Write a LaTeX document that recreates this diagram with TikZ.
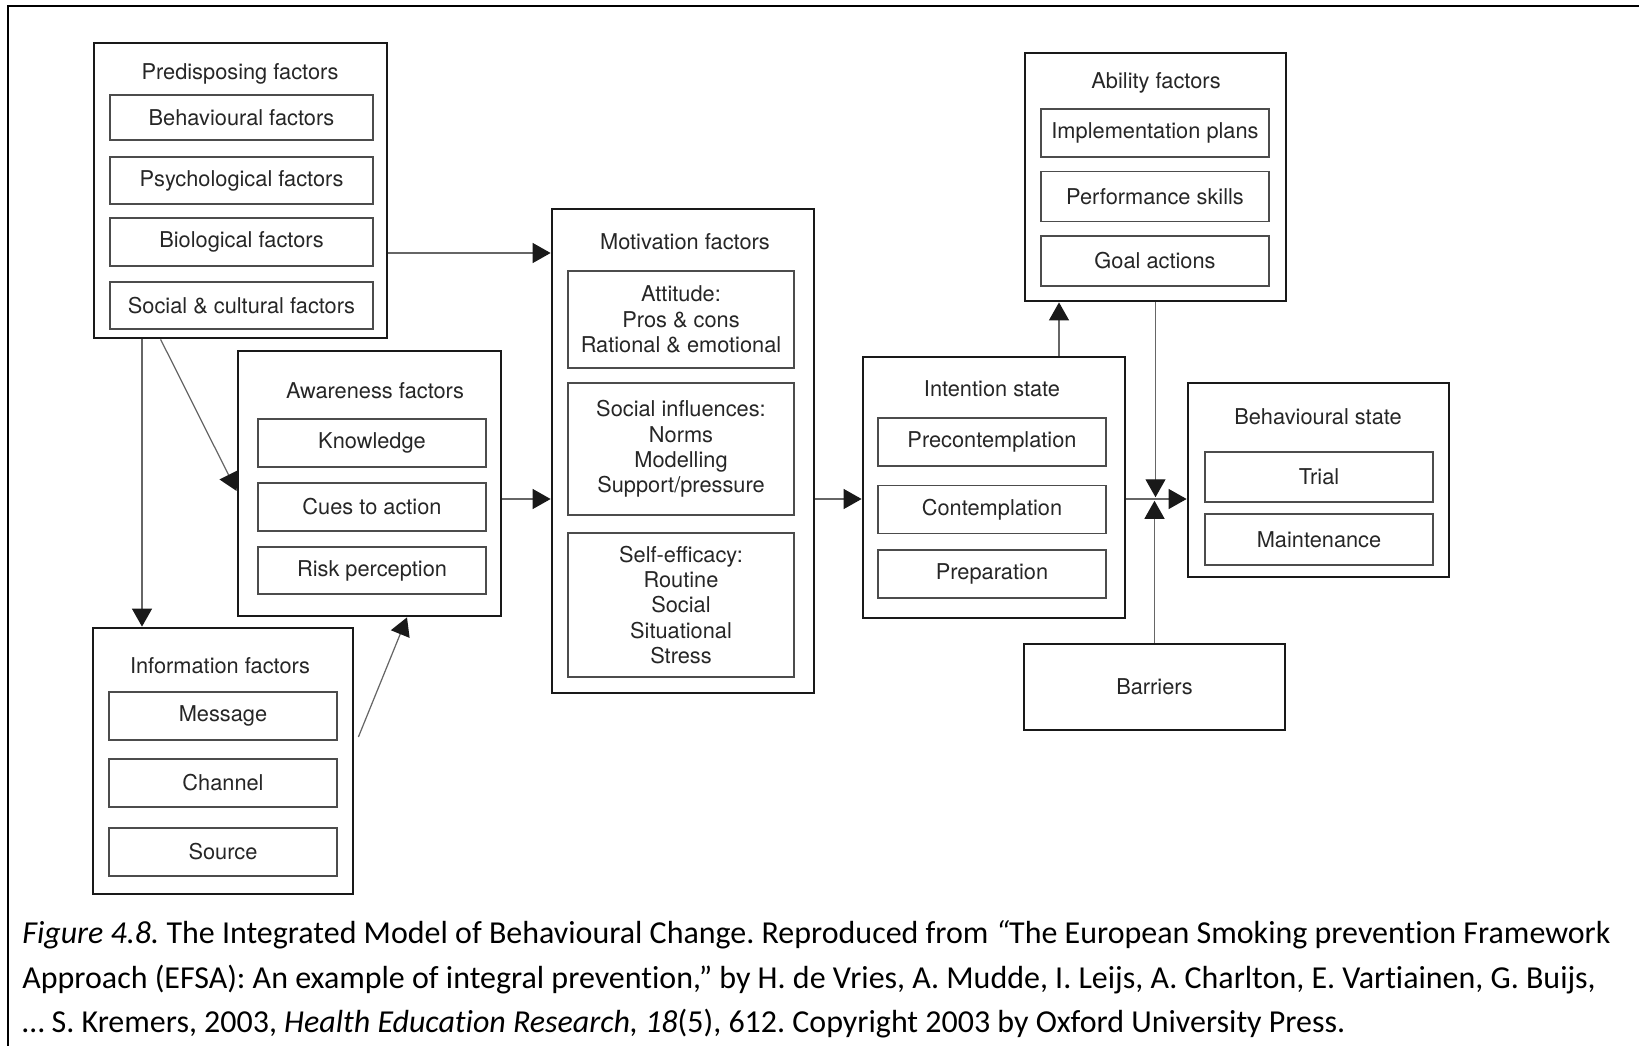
\documentclass[tikz,border=0pt]{standalone}
\usepackage{fontspec}
\setmainfont{TeX Gyre Heros}
\newfontfamily\capfont[Ligatures=NoCommon]{Carlito}
\usetikzlibrary{arrows.meta,positioning}

\begin{document}
\frenchspacing
\begin{tikzpicture}[x=0.02cm,y=-0.02cm,>={Triangle[length=3.6mm,width=4mm,color=black!90]},
    every node/.style={font=\fontsize{12.4}{14.5}\selectfont, text=black!85},
    group/.style={draw=black!90, line width=1.6pt, minimum width=5.22cm, inner sep=0pt},
    item/.style={draw=black!70, line width=0.9pt, minimum width=4.56cm, minimum height=0.96cm, align=center, inner sep=0pt},
    title/.style={inner sep=0pt},
    link/.style={->, line width=0.7pt, draw=black!60},
]
    \useasboundingbox (0,0) rectangle (1639,1045);
    % outer frame (cut at right and bottom)
    \draw[line width=1.2pt] (8,1060) -- (8,6) -- (1660,6);

    % predisposing factors
    \node (pred) [group, minimum width=5.86cm, minimum height=5.9cm] at (240.5,190.5) {};
    \node (predT) [title] at (240,74) {Predisposing factors};
    \node (behf) [item, minimum width=5.26cm, minimum height=0.9cm] at (241.5,117.5) {Behavioural factors};
    \node (psyf) [item, minimum width=5.26cm, minimum height=0.94cm] at (241.5,180.5) {Psychological factors};
    \node (biof) [item, minimum width=5.26cm] at (241.5,242) {Biological factors};
    \node (socf) [item, minimum width=5.26cm, minimum height=0.94cm] at (241.5,305.5) {Social \& cultural factors};

    % awareness factors
    \node (aware) [group, minimum width=5.26cm, minimum height=5.3cm] at (369.5,483.5) {};
    \node (awareT) [title] at (375,391) {Awareness factors};
    \node (know) [item] at (372,443) {Knowledge};
    \node (cues) [item] at (372,507) {Cues to action};
    \node (risk) [item, minimum height=0.94cm] at (372,570.5) {Risk perception};

    % information factors
    \node (info) [group, minimum width=5.2cm, minimum height=5.32cm] at (223,761) {};
    \node (infoT) [title] at (220,666) {Information factors};
    \node (msg) [item] at (223,716) {Message};
    \node (chan) [item] at (223,783) {Channel};
    \node (src) [item] at (223,852) {Source};

    % motivation factors
    \node (mot) [group, minimum width=5.24cm, minimum height=9.68cm] at (683,451) {};
    \node (motT) [title] at (685,242) {Motivation factors};
    \node (att) [item, minimum width=4.52cm, minimum height=1.94cm] at (681,319.5) {Attitude:\\Pros \& cons\\Rational \& emotional};
    \node (soc) [item, minimum width=4.52cm, minimum height=2.64cm] at (681,449) {Social influences:\\Norms\\Modelling\\Support/pressure};
    \node (self) [item, minimum width=4.52cm, minimum height=2.88cm] at (681,605) {Self-efficacy:\\Routine\\Social\\Situational\\Stress};

    % intention state
    \node (int) [group, minimum width=5.24cm, minimum height=5.22cm] at (994,487.5) {};
    \node (intT) [title] at (992,389) {Intention state};
    \node (prec) [item] at (992,442) {Precontemplation};
    \node (cont) [item] at (992,509.5) {Contemplation};
    \node (prep) [item] at (992,574) {Preparation};

    % ability factors
    \node (abil) [group, minimum height=4.96cm] at (1155.5,177) {};
    \node (abilT) [title] at (1156,83) {Ability factors};
    \node (impl) [item] at (1155,133) {Implementation plans};
    \node (perf) [item, minimum height=1.0cm] at (1155,196.5) {Performance skills};
    \node (goal) [item, minimum height=1.0cm] at (1155,261) {Goal actions};

    % behavioural state
    \node (beh) [group, minimum height=3.88cm] at (1318.5,480) {};
    \node (behT) [title] at (1318,417) {Behavioural state};
    \node (trial) [item, minimum height=1.0cm] at (1319,477) {Trial};
    \node (maint) [item, minimum height=1.02cm] at (1319,539.5) {Maintenance};

    % barriers
    \node (bar) [group, minimum height=1.72cm] at (1154.5,687) {Barriers};

    % caption
    \node (caption) [anchor=north west, align=left, inner sep=0pt, text=black,
        font=\capfont\fontsize{18.2}{25.5}\selectfont] at (22,920)
        {\textit{Figure 4.8.} The Integrated Model of Behavioural Change. Reproduced from \textit{“}The European Smoking prevention Framework\\
         Approach (EFSA): An example of integral prevention,” by H. de Vries, A. Mudde, I. Leijs, A. Charlton, E. Vartiainen, G. Buijs,\\
         … S. Kremers, 2003, \textit{Health Education Research, 18}(5), 612. Copyright 2003 by Oxford University Press.};

    % helper coordinates
    \coordinate (axis) at (0,499);
    \coordinate (bioline) at (0,253);
    \coordinate (infoline) at (142,0);
    \coordinate (abline) at (1059,0);

    % connect the nodes
    \draw[link] (pred.east |- bioline) -- (mot.west |- bioline);
    \draw[link] (pred.south -| infoline) -- (info.north -| infoline);
    \draw[link] ([xshift=1.36cm]pred.south west) -- ([yshift=-0.15cm]aware.west);
    \draw[link] ([shift={(0.08cm,0.48cm)}]info.east) -- ([xshift=0.75cm]aware.south);
    \draw[link] (aware.east |- axis) -- (mot.west |- axis);
    \draw[link] (mot.east |- axis) -- (int.west |- axis);
    \draw[link] (int.east |- axis) -- (beh.west |- axis);
    \draw[link] (int.north -| abline) -- (abil.south -| abline);
    \draw[link, shorten >=1pt] (abil.south) -- (abil.south |- axis);
    \draw[link, shorten >=1pt] (bar.north) -- (bar.north |- axis);
\end{tikzpicture}
\end{document}
